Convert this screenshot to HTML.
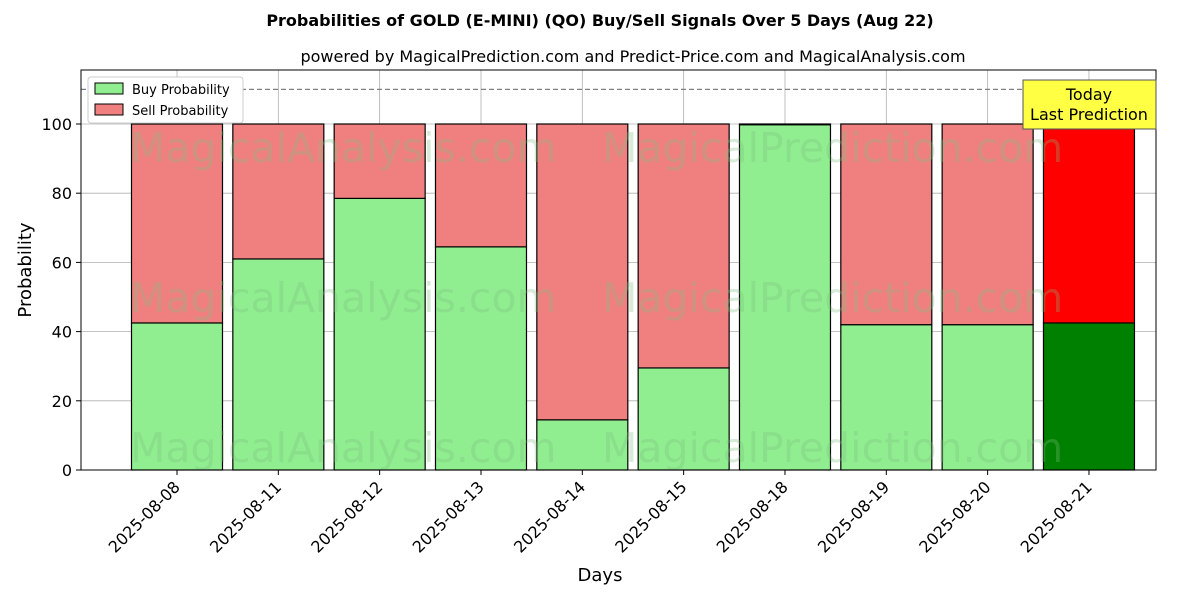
<!DOCTYPE html>
<html><head><meta charset="utf-8"><style>
body{margin:0;background:#fff;font-family:"Liberation Sans","DejaVu Sans",sans-serif;}
</style></head><body>
<svg width="1200" height="600" xmlns="http://www.w3.org/2000/svg" font-family="DejaVu Sans, Liberation Sans, sans-serif">
<rect width="1200" height="600" fill="#fff"/>
<text x="600" y="26" text-anchor="middle" font-size="16" font-weight="bold">Probabilities of GOLD (E-MINI) (QO) Buy/Sell Signals Over 5 Days (Aug 22)</text>
<text x="633" y="62" text-anchor="middle" font-size="16">powered by MagicalPrediction.com and Predict-Price.com and MagicalAnalysis.com</text>
<g id="grid"></g>
<g id="bars"></g>
<g font-size="41" fill="#7fbf7f" opacity="0.3">
<text x="130" y="162">MagicalAnalysis.com</text><text x="602" y="162">MagicalPrediction.com</text>
<text x="130" y="312">MagicalAnalysis.com</text><text x="602" y="312">MagicalPrediction.com</text>
<text x="130" y="462">MagicalAnalysis.com</text><text x="602" y="462">MagicalPrediction.com</text>
</g>
<line x1="81" x2="1156" y1="89.4" y2="89.4" stroke="#808080" stroke-width="1.3" stroke-dasharray="5,3"/>
<rect x="81" y="70" width="1075" height="400" fill="none" stroke="#000" stroke-width="1"/>
<g id="axes"></g>
<text x="600" y="581" text-anchor="middle" font-size="18">Days</text>
<text transform="translate(31,270) rotate(-90)" text-anchor="middle" font-size="18">Probability</text>
<g>
<rect x="88" y="77" width="155" height="46" fill="#fff" stroke="#ccc" rx="3"/>
<rect x="95" y="83" width="28" height="11" fill="#90ee90" stroke="#000"/>
<text x="132" y="94" font-size="13">Buy Probability</text>
<rect x="95" y="104" width="28" height="11" fill="#f08080" stroke="#000"/>
<text x="132" y="115" font-size="13">Sell Probability</text>
</g>
<g>
<rect x="1023" y="80" width="133" height="49" fill="#ffff44" stroke="#555"/>
<text x="1089" y="100" text-anchor="middle" font-size="16">Today</text>
<text x="1089" y="120" text-anchor="middle" font-size="16">Last Prediction</text>
</g>
</svg>
<script>
const categories=["2025-08-08","2025-08-11","2025-08-12","2025-08-13","2025-08-14","2025-08-15","2025-08-18","2025-08-19","2025-08-20","2025-08-21"];
const buyValues=[42.5,61,78.5,64.5,14.5,29.5,99.8,42,42,42.5];
const sellValues=[57.5,39,21.5,35.5,85.5,70.5,0.2,58,58,57.5];
const yTicks=[0,20,40,60,80,100];
const NS="http://www.w3.org/2000/svg";
const xs=i=>177+i*101.33;
const ys=v=>470-v*3.46;
function mk(tag,attrs,parent){const e=document.createElementNS(NS,tag);for(const k in attrs)e.setAttribute(k,attrs[k]);parent.appendChild(e);return e;}
const grid=document.getElementById('grid'),bars=document.getElementById('bars'),axes=document.getElementById('axes');
yTicks.forEach(t=>{
 const l=mk('line',{x1:81,x2:1156,y1:ys(t),y2:ys(t),stroke:'#b0b0b0','stroke-width':0.8},grid);
 
 
 mk('line',{x1:76,x2:81,y1:ys(t),y2:ys(t),stroke:'#000'},axes);
 const tx=mk('text',{x:72,y:ys(t)+6,'text-anchor':'end','font-size':16},axes);
 tx.textContent=t;
 
 
});
categories.forEach((c,i)=>{
 const x=xs(i);
 const g=mk('line',{x1:x,x2:x,y1:70,y2:470,stroke:'#b0b0b0','stroke-width':0.8},grid);
 
 
 const last=i===categories.length-1;
 const b=mk('rect',{x:x-45.5,y:ys(buyValues[i]),width:91,height:buyValues[i]*3.46,fill:last?'#008000':'#90ee90',stroke:'#000','stroke-width':1.2},bars);
 
 
 const s=mk('rect',{x:x-45.5,y:ys(buyValues[i]+sellValues[i]),width:91,height:sellValues[i]*3.46,fill:last?'#ff0000':'#f08080',stroke:'#000','stroke-width':1.2},bars);
 
 
 mk('line',{x1:x,x2:x,y1:470,y2:475,stroke:'#000'},axes);
 const t=mk('text',{x:0,y:0,'text-anchor':'end','font-size':16,transform:`translate(${x+4},${488}) rotate(-45)`},axes);
 t.textContent=c;
 
 
});
</script>
</body></html>
